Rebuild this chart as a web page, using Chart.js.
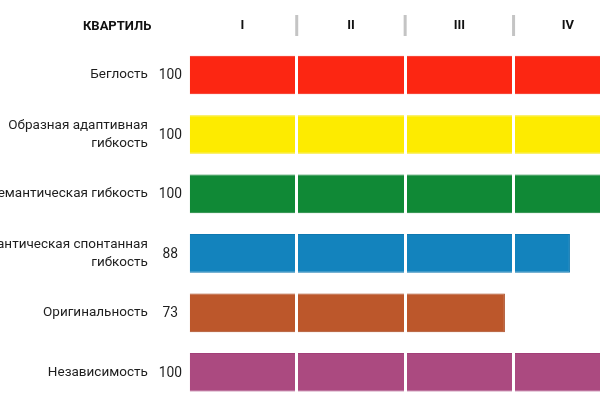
<!DOCTYPE html>
<html>
<head>
<meta charset="utf-8">
<script src="https://cdn.jsdelivr.net/npm/chart.js@4/dist/chart.umd.min.js"></script>
<style>
  html, body { margin: 0; padding: 0; background: #fff; overflow: hidden; width: 600px; height: 400px; }
  #wrap { position: absolute; left: 0; top: 0; }
</style>
</head>
<body>
<div id="wrap"><canvas id="c" width="622" height="402"></canvas></div>
<script>
const categories = [
  'Беглость',
  ['Образная адаптивная', 'гибкость'],
  'Семантическая гибкость',
  ['Семантическая спонтанная', 'гибкость'],
  'Оригинальность',
  'Независимость'
];
const scores = [100, 100, 100, 88, 73, 100];
const quartileLabels = ['I', 'II', 'III', 'IV'];
const headerTitle = 'КВАРТИЛЬ';
const barColors = ['#FC2612', '#FDEB00', '#108936', '#1383BD', '#BC572B', '#AB4A80'];
const barBorders = ['#F51A0A', '#F7E400', '#0E7F31', '#0F78B0', '#A8441C', '#A23F78'];

const FONT = 'Roboto, "Noto Sans", sans-serif';

const extrasPlugin = {
  id: 'extras',
  afterDraw(chart) {
    const ctx = chart.ctx;
    const area = chart.chartArea;
    const x = chart.scales.x;
    const y = chart.scales.y;
    ctx.save();
    ctx.fillStyle = '#c4c4c4';
    [25, 50, 75].forEach(v => {
      const px = x.getPixelForValue(v);
      ctx.fillRect(px - 1.5, 15, 3, 21);
    });
    ctx.fillStyle = '#111';
    ctx.font = 'bold 13px ' + FONT;
    ctx.textAlign = 'right';
    ctx.textBaseline = 'middle';
    ctx.fillText(headerTitle, area.left - 37, 26.5);
    ctx.font = '13.8px ' + FONT;
    ctx.textAlign = 'center';
    ctx.fillStyle = '#1e1e1e';
    scores.forEach((s, i) => {
      ctx.fillText(String(s), area.left - 18, y.getPixelForValue(i) + 1);
    });
    ctx.restore();
  }
};

new Chart(document.getElementById('c'), {
  type: 'bar',
  data: {
    labels: categories,
    datasets: [{
      data: scores,
      backgroundColor: barColors,
      borderColor: barBorders,
      borderWidth: 1,
      barPercentage: 0.65,
      categoryPercentage: 1
    }]
  },
  options: {
    indexAxis: 'y',
    responsive: false,
    animation: false,
    devicePixelRatio: 1,
    layout: { padding: 0 },
    plugins: { legend: { display: false }, tooltip: { enabled: false } },
    scales: {
      x: {
        position: 'top',
        min: 0, max: 100,
        afterFit(scale) {
          scale.height = 45.3;
          scale.paddingLeft = 0; scale.paddingRight = 0;
          scale.paddingTop = 0; scale.paddingBottom = 0;
        },
        ticks: {
          stepSize: 12.5,
          autoSkip: false,
          maxRotation: 0,
          padding: 12,
          color: '#111',
          font: { family: FONT, size: 13, weight: 'bold' },
          callback(v) {
            const k = Math.round(v / 12.5);
            return k % 2 === 1 ? quartileLabels[(k - 1) / 2] : '';
          }
        },
        grid: {
          z: 1,
          drawTicks: false,
          lineWidth: 3,
          color(ctx) {
            const v = ctx.tick ? ctx.tick.value : null;
            return (v === 25 || v === 50 || v === 75) ? '#ffffff' : 'rgba(0,0,0,0)';
          }
        },
        border: { display: false }
      },
      y: {
        afterFit(scale) {
          scale.width = 188.3;
          scale.paddingTop = 0; scale.paddingBottom = 0;
          scale.paddingLeft = 0; scale.paddingRight = 0;
        },
        ticks: {
          padding: 40.5,
          color: '#1e1e1e',
          font: { family: FONT, size: 13.5, lineHeight: 1.3 },
          autoSkip: false
        },
        grid: { display: false, drawTicks: false },
        border: { display: false }
      }
    }
  },
  plugins: [extrasPlugin]
});
</script>
</body>
</html>
